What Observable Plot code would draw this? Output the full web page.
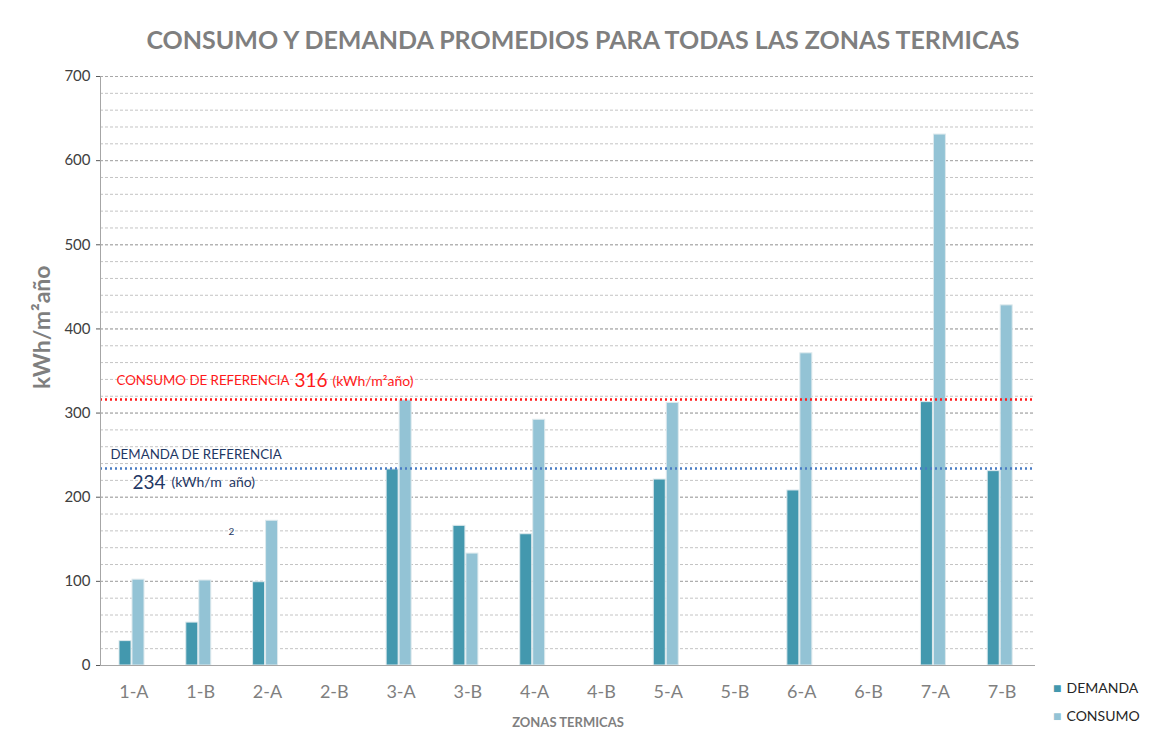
<!DOCTYPE html>
<html>
<head>
<meta charset="utf-8">
<script src="https://cdn.jsdelivr.net/npm/d3@7"></script>
<script src="https://cdn.jsdelivr.net/npm/@observablehq/plot@0.6"></script>
<style>
  body { margin: 0; background: #fff; }
  #chart svg { display: block; }
</style>
</head>
<body>
<div id="chart"></div>
<script>
const zones = ["1-A","1-B","2-A","2-B","3-A","3-B","4-A","4-B","5-A","5-B","6-A","6-B","7-A","7-B"];
const demanda = [29, 51, 99, null, 233, 166, 156, null, 221, null, 208, null, 313, 231];
const consumo = [102, 101, 172, null, 315, 133, 292, null, 312, null, 371, null, 631, 428];
const yTicks = [0, 100, 200, 300, 400, 500, 600, 700];
const gridTicks = d3.range(20, 701, 20);
const consumoRef = 316;
const demandaRef = 234;

const colDem = "#4398ae";
const colCon = "#93c3d5";
const font = "Lato, 'Open Sans', sans-serif";

const demRows = zones.map((z, i) => ({zone: z, value: demanda[i]})).filter(d => d.value != null);
const conRows = zones.map((z, i) => ({zone: z, value: consumo[i]})).filter(d => d.value != null);

const chart = Plot.plot({
  width: 1151,
  height: 748,
  marginTop: 76,
  marginBottom: 83,
  marginLeft: 100,
  marginRight: 116,
  style: {fontFamily: font, color: "#595959", background: "#fff"},
  x: {domain: zones, padding: 0, round: false},
  y: {domain: [0, 700]},
  marks: [
    Plot.ruleY(gridTicks, {stroke: "#c4c4c4", strokeDasharray: "3,2", strokeWidth: 1}),
    Plot.ruleY(yTicks.filter(t => t > 0), {stroke: "#a8a8a8", strokeDasharray: "3,2", strokeWidth: 1}),
    Plot.barY(demRows, {x: "zone", y: "value", fill: colDem, stroke: "#dde9ed", strokeWidth: 1, insetLeft: 19, insetRight: 35.8}),
    Plot.barY(conRows, {x: "zone", y: "value", fill: colCon, stroke: "#dde9ed", strokeWidth: 1, insetLeft: 32, insetRight: 22.8}),
    Plot.ruleY([consumoRef], {stroke: "#ff1a1a", strokeWidth: 2.5, strokeDasharray: "2,3"}),
    Plot.ruleY([demandaRef], {stroke: "#4a7cc4", strokeWidth: 2.5, strokeDasharray: "2,3"}),
    Plot.ruleY([0], {stroke: "#a6a6a6", strokeWidth: 1.2}),
    Plot.frame({anchor: "left", stroke: "#a6a6a6"}),
    Plot.axisY({ticks: yTicks, tickSize: 4, tickPadding: 6, fontSize: 15, label: null, fill: "#404040"}),
    Plot.axisX({tickSize: 0, tickPadding: 20, fontSize: 18, label: null, fill: "#7f7f7f"}),
    // annotations
    Plot.text(["CONSUMO DE REFERENCIA"], {frameAnchor: "left", y: [338], dx: 16, textAnchor: "start", fill: "#ff1a1a", fontSize: 13.3}),
    Plot.text(["316"], {frameAnchor: "left", y: [338], dx: 194, textAnchor: "start", fill: "#ff1a1a", fontSize: 19}),
    Plot.text(["(kWh/m²año)"], {frameAnchor: "left", y: [338], dx: 232, textAnchor: "start", fill: "#ff1a1a", fontSize: 14}),
    Plot.text(["DEMANDA DE REFERENCIA"], {frameAnchor: "left", y: [250], dx: 10, textAnchor: "start", fill: "#1f3864", fontSize: 13.3}),
    Plot.text(["234"], {frameAnchor: "left", y: [217], dx: 32, textAnchor: "start", fill: "#1f3864", fontSize: 19}),
    Plot.text(["(kWh/m  año)"], {frameAnchor: "left", y: [217], dx: 71, textAnchor: "start", fill: "#1f3864", fontSize: 14}),
    Plot.text(["2"], {frameAnchor: "left", y: [159], dx: 128, textAnchor: "start", fill: "#1f3864", fontSize: 10}),
    // title
    Plot.text(["CONSUMO Y DEMANDA PROMEDIOS PARA TODAS LAS ZONAS TERMICAS"], {frameAnchor: "top", lineAnchor: "middle", dx: 15, dy: -36, fill: "#7f7f7f", fontSize: 25, fontWeight: "bold"}),
    // y label
    Plot.text(["kWh/m²año"], {frameAnchor: "left", y: [402], dx: -58, rotate: -90, textAnchor: "middle", fill: "#7f7f7f", fontSize: 23, fontWeight: "bold"}),
    // x label
    Plot.text(["ZONAS TERMICAS"], {frameAnchor: "bottom", lineAnchor: "middle", dx: 0, dy: 57, fill: "#7f7f7f", fontSize: 13, fontWeight: "bold"}),
    // legend
    Plot.text(["■"], {frameAnchor: "bottom-right", lineAnchor: "middle", dx: 26, dy: 23, fill: colDem, fontSize: 14}),
    Plot.text(["DEMANDA"], {frameAnchor: "bottom-right", lineAnchor: "middle", dx: 31, dy: 23, textAnchor: "start", fill: "#262626", fontSize: 14}),
    Plot.text(["■"], {frameAnchor: "bottom-right", lineAnchor: "middle", dx: 26, dy: 51, fill: colCon, fontSize: 14}),
    Plot.text(["CONSUMO"], {frameAnchor: "bottom-right", lineAnchor: "middle", dx: 31, dy: 51, textAnchor: "start", fill: "#262626", fontSize: 14})
  ]
});
document.getElementById("chart").append(chart);
</script>
</body>
</html>
